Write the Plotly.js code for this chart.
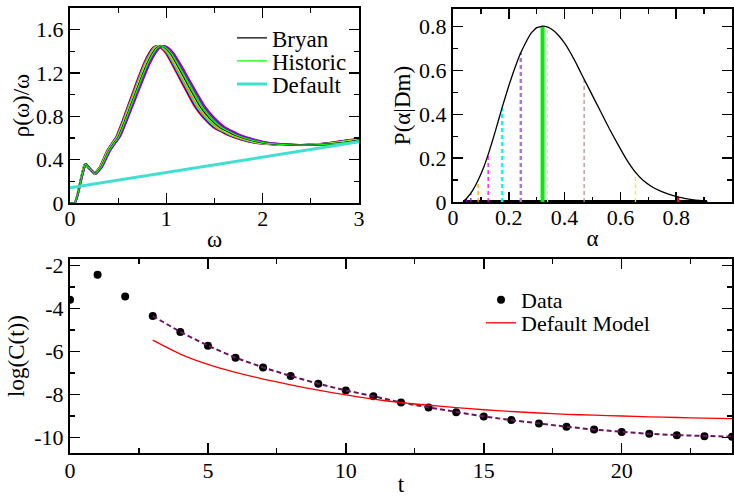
<!DOCTYPE html>
<html>
<head>
<meta charset="utf-8">
<script src="https://cdn.plot.ly/plotly-3.0.1.min.js"></script>
<style>html,body{margin:0;padding:0;background:#fff;}#chart{width:734px;height:497px;}</style>
</head>
<body>
<div id="chart"></div>
<script>
// ---------- Top-left panel: rho(omega)/omega ----------
const omega = [0, 0.05, 0.08, 0.11, 0.14, 0.16, 0.2, 0.26, 0.32, 0.4, 0.46, 0.5, 0.56, 0.62, 0.68, 0.74, 0.8, 0.86, 0.9, 0.94, 0.98, 1.04, 1.1, 1.18, 1.26, 1.35, 1.45, 1.55, 1.7, 1.85, 2.0, 2.2, 2.4, 2.6, 2.8, 3.0, 3.15];
const rho = [0, 0.0, 0.08, 0.2, 0.31, 0.36, 0.32, 0.27, 0.33, 0.48, 0.56, 0.61, 0.74, 0.88, 1.02, 1.16, 1.29, 1.39, 1.435, 1.45, 1.435, 1.38, 1.29, 1.16, 1.03, 0.89, 0.78, 0.70, 0.63, 0.585, 0.555, 0.54, 0.535, 0.54, 0.555, 0.58, 0.595];
const bandScale = [0.958, 0.966, 0.974, 0.982, 0.99, 0.998, 1.006, 1.014, 1.022, 1.03, 1.038];
const bandColor = ["#ff0000", "#0000ff", "#bc8f8f", "#00ff00", "#ffa500", "#ffff00", "#00ffff", "#ff00ff", "#00ff00", "#7221bc", "#9400d3"];
const bryanScale = 1.0;
const historicScale = 1.01;
const defaultOmega = [0, 3];
const defaultRho = [0.14, 0.565];

// ---------- Top-right panel: P(alpha|Dm) ----------
const alpha = [0.036, 0.05, 0.07, 0.09, 0.11, 0.13, 0.15, 0.176, 0.2, 0.22, 0.241, 0.26, 0.28, 0.30, 0.321, 0.34, 0.36, 0.38, 0.40, 0.42, 0.44, 0.46, 0.48, 0.50, 0.53, 0.56, 0.59, 0.62, 0.653, 0.68, 0.71, 0.74, 0.77, 0.806, 0.84, 0.87, 0.91];
const palpha = [0, 0.018, 0.052, 0.099, 0.158, 0.232, 0.315, 0.43, 0.53, 0.605, 0.675, 0.725, 0.77, 0.795, 0.802, 0.797, 0.782, 0.757, 0.724, 0.683, 0.636, 0.585, 0.535, 0.485, 0.41, 0.335, 0.265, 0.198, 0.137, 0.1, 0.072, 0.052, 0.037, 0.023, 0.014, 0.008, 0.004];
const markAlpha = [0.048, 0.064, 0.09, 0.126, 0.176, 0.243, 0.339, 0.47, 0.654, 0.806, 0.91, 0.321];
const markP     = [0.016, 0.042, 0.099, 0.215, 0.43, 0.68, 0.797, 0.56, 0.136, 0.023, 0.004, 0.802];
const markColor = ["#9400d3", "#7221bc", "#ffa500", "#ff00ff", "#00ffff", "#b070e0", "#dcdcdc", "#bc8f8f", "#ffee00", "#ff0000", "#0000ff", "#00ee00"];
const baseAlpha = [0.036, 0.91];
const baseP = [0, 0];

// ---------- Bottom panel: log(C(t)) ----------
const t = [0,1,2,3,4,5,6,7,8,9,10,11,12,13,14,15,16,17,18,19,20,21,22,23,24];
const logC = [-3.6, -2.43, -3.44, -4.35, -5.09, -5.73, -6.29, -6.74, -7.14, -7.5, -7.81, -8.08, -8.37, -8.6, -8.82, -9.02, -9.19, -9.35, -9.5, -9.63, -9.74, -9.83, -9.89, -9.94, -9.96];
const tFit = [3,4,5,6,7,8,9,10,11,12,13,14,15,16,17,18,19,20,21,22,23,24];
const logCFit = [-4.35, -5.09, -5.73, -6.29, -6.74, -7.14, -7.5, -7.81, -8.08, -8.37, -8.6, -8.82, -9.02, -9.19, -9.35, -9.5, -9.63, -9.74, -9.83, -9.89, -9.94, -9.96];
const logCDefault = [-5.47, -6.12, -6.6, -6.97, -7.28, -7.55, -7.8, -8.02, -8.22, -8.38, -8.5, -8.61, -8.71, -8.79, -8.86, -8.92, -8.96, -9.0, -9.04, -9.07, -9.1, -9.12];
const yTickVals = [-10, -8, -6, -4, -2];
const yTickText = ["-10", "-8", "-6", "-4", "-2"];

const FONT = "Liberation Serif";
const traces = [];

// band curves
bandScale.forEach((s, i) => {
  traces.push({x: omega.map(w => w * s), y: rho, xaxis: 'x', yaxis: 'y', mode: 'lines',
    line: {color: bandColor[i], width: 1.8, shape: 'spline', smoothing: 0.4}, showlegend: false, hoverinfo: 'skip'});
});
traces.push({x: omega.map(w => w * bryanScale), y: rho, xaxis: 'x', yaxis: 'y', mode: 'lines',
  line: {color: '#000000', width: 1.2, shape: 'spline', smoothing: 0.4}, name: 'Bryan', legend: 'legend'});
traces.push({x: omega.map(w => w * historicScale), y: rho, xaxis: 'x', yaxis: 'y', mode: 'lines',
  line: {color: '#00ff00', width: 1.2, shape: 'spline', smoothing: 0.4}, name: 'Historic', legend: 'legend3'});
traces.push({x: defaultOmega, y: defaultRho, xaxis: 'x', yaxis: 'y', mode: 'lines',
  line: {color: '#40e0d0', width: 3}, name: 'Default', legend: 'legend4'});

// top-right
traces.push({x: baseAlpha, y: baseP, xaxis: 'x2', yaxis: 'y2', mode: 'lines',
  line: {color: '#000000', width: 4}, showlegend: false});
markAlpha.forEach((a, i) => {
  const isGreen = i === markAlpha.length - 1;
  const thick = (i === 4 || i === 5);
  const isRed = i === 9;
  traces.push({x: [a, a], y: [0, markP[i]], xaxis: 'x2', yaxis: 'y2', mode: 'lines',
    line: {color: markColor[i], width: isGreen ? 4 : (isRed ? 3 : (thick ? 2.5 : 1.3)),
      dash: isGreen || isRed ? 'solid' : '4px,3px'}, showlegend: false});
});
traces.push({x: alpha, y: palpha, xaxis: 'x2', yaxis: 'y2', mode: 'lines',
  line: {color: '#000000', width: 1.3, shape: 'spline', smoothing: 0.3}, showlegend: false});

// bottom
traces.push({x: t, y: logC, xaxis: 'x3', yaxis: 'y3', mode: 'markers',
  marker: {color: '#000000', size: 8}, name: 'Data', legend: 'legend2'});
traces.push({x: tFit, y: logCFit, xaxis: 'x3', yaxis: 'y3', mode: 'lines',
  line: {color: '#6a1460', width: 2, dash: '5px,3px'}, showlegend: false});
traces.push({x: tFit, y: logCDefault, xaxis: 'x3', yaxis: 'y3', mode: 'lines',
  line: {color: '#ff0000', width: 1.3, shape: 'spline', smoothing: 0.5}, name: 'Default Model', legend: 'legend5'});

function ax(extra) {
  return Object.assign({
    showline: true, linecolor: '#000', linewidth: 2, mirror: 'allticks',
    ticks: 'inside', ticklen: 10, tickwidth: 1.5, tickcolor: '#000',
    showgrid: false, zeroline: false, fixedrange: true,
    tickfont: {family: FONT, size: 22, color: '#000'},
  }, extra);
}
function minor(d) { return {ticks: 'inside', ticklen: 5, tickwidth: 1.2, tickcolor: '#000', dtick: d, showgrid: false}; }
function ttl(text, standoff) { return {text: text, font: {family: FONT, size: 23, color: '#000'}, standoff: standoff}; }
function leg(px, py, fs) {
  return {x: px/734, xanchor: 'left', y: 1 - py/497, yanchor: 'middle', bgcolor: 'rgba(0,0,0,0)', borderwidth: 0,
    font: {family: FONT, size: fs, color: '#000'}, itemwidth: 30, tracegroupgap: 0};
}

const layout = {
  width: 734, height: 497,
  margin: {l: 0, r: 0, t: 0, b: 0},
  paper_bgcolor: '#fff', plot_bgcolor: '#fff',
  font: {family: FONT, color: '#000'},
  xaxis: ax({domain: [70/734, 359/734], anchor: 'y', range: [0, 3], dtick: 1, tick0: 0, minor: minor(0.5), ticklabelstandoff: -5, title: ttl('ω', 0)}),
  yaxis: ax({domain: [1 - 203/497, 1 - 8/497], anchor: 'x', range: [0, 1.8], dtick: 0.4, tick0: 0, minor: minor(0.2), title: ttl('ρ(ω)/ω', 0)}),
  xaxis2: ax({domain: [453/734, 732/734], anchor: 'y2', range: [0, 1], dtick: 0.2, tick0: 0, minor: minor(0.1), ticklabelstandoff: -5, title: ttl('α', 0)}),
  yaxis2: ax({domain: [1 - 202/497, 1 - 9/497], anchor: 'x2', range: [0, 0.88], dtick: 0.2, tick0: 0, minor: minor(0.1), title: ttl('P(α|Dm)', 2)}),
  xaxis3: ax({domain: [70/734, 732/734], anchor: 'y3', range: [0, 24], dtick: 5, tick0: 0, minor: minor(2.5), ticklabelstandoff: -3, title: ttl('t', 4)}),
  yaxis3: ax({domain: [1 - 453/497, 1 - 259/497], anchor: 'x3', range: [-10.72, -1.7], tickmode: 'array', tickvals: yTickVals, ticktext: yTickText,
    minor: {ticks: 'inside', ticklen: 5, tickwidth: 1.2, tickcolor: '#000', tickmode: 'linear', tick0: 0, dtick: 1}, title: ttl('log(C(t))', 3)}),
  legend: leg(232, 38, 23),
  legend3: leg(232, 61, 23),
  legend4: leg(232, 84, 23),
  legend2: leg(481, 300, 22),
  legend5: leg(481, 323, 22),
  showlegend: true,
};

Plotly.newPlot('chart', traces, layout, {staticPlot: true, displayModeBar: false});
</script>
</body>
</html>
